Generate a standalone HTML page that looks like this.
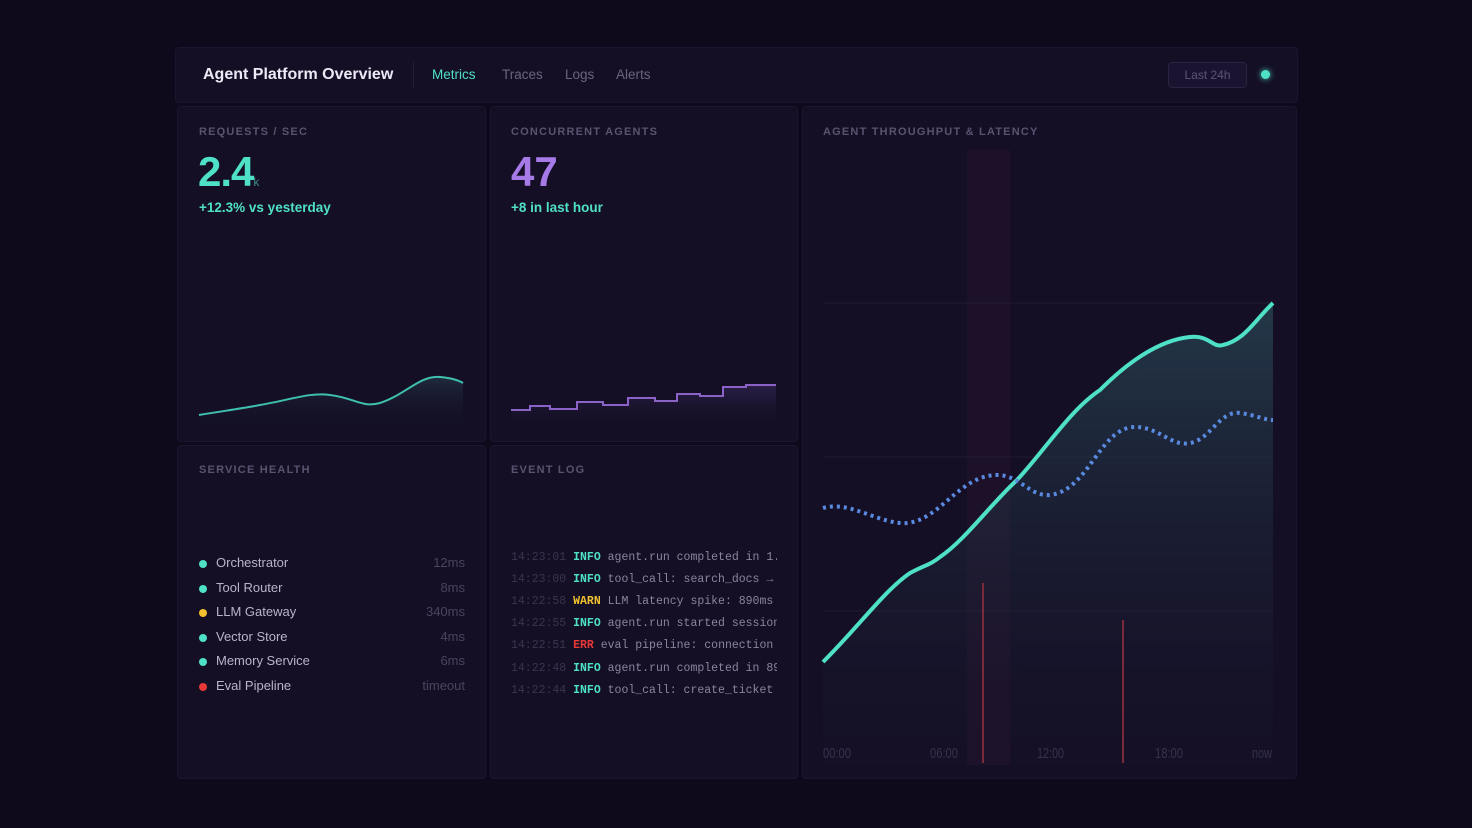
<!DOCTYPE html>
<html><head><meta charset="utf-8"><style>
*{margin:0;padding:0;box-sizing:border-box}
body{width:1472px;height:828px;background:#0e0a1c;font-family:"Liberation Sans",sans-serif;position:relative;overflow:hidden}
.abs{position:absolute}
.panel{position:absolute;background:#140f25;border:1px solid #1b1530;border-radius:4px}
.lbl{position:absolute;font-size:11px;font-weight:bold;letter-spacing:1.2px;color:#5a5370}
.row{position:absolute;left:22px;width:266px;font-size:13px;color:#b9b3cc;height:20px}
.row i{position:absolute;left:0;top:5px;width:8px;height:8px;border-radius:50%}
.row span{position:absolute;left:17px}
.row b{position:absolute;right:0;font-weight:normal;color:#4a4460}
.log{position:absolute;left:20px;font-family:"Liberation Mono",monospace;font-size:11.5px;color:#8a84a0;white-space:nowrap;width:266px;overflow:hidden}
.log s{text-decoration:none;color:#3a3450}
.log .i{color:#4fe0c8;font-weight:bold}
</style></head><body>
<div class="panel" style="left:175px;top:47px;width:1123px;height:56px;background:#150f26"></div>
<div class="abs" style="left:203px;top:66px;font-size:16px;font-weight:bold;color:#eceaf5">Agent Platform Overview</div>
<div class="abs" style="left:413px;top:62px;width:1px;height:26px;background:#231d38"></div>
<div class="abs" style="left:432px;top:67px;font-size:13.5px;color:#4fe0c8">Metrics</div>
<div class="abs" style="left:502px;top:67px;font-size:13.5px;color:#6a6480">Traces</div>
<div class="abs" style="left:565px;top:67px;font-size:13.5px;color:#6a6480">Logs</div>
<div class="abs" style="left:616px;top:67px;font-size:13.5px;color:#6a6480">Alerts</div>
<div class="abs" style="left:1168px;top:62px;width:79px;height:26px;border:1px solid #2a2440;border-radius:4px;background:#1a1430;color:#5c5672;font-size:12px;text-align:center;line-height:24px">Last 24h</div>
<div class="abs" style="left:1261px;top:70px;width:9px;height:9px;border-radius:50%;background:#4fe0c8;box-shadow:0 0 6px #4fe0c8"></div>

<div class="panel" style="left:177px;top:106px;width:309px;height:336px"></div>
<div class="panel" style="left:490px;top:106px;width:308px;height:336px"></div>
<div class="panel" style="left:802px;top:106px;width:495px;height:673px"></div>
<div class="panel" style="left:177px;top:445px;width:309px;height:334px"></div>
<div class="panel" style="left:490px;top:445px;width:308px;height:334px"></div>

<div class="lbl" style="left:199px;top:126px">REQUESTS / SEC</div>
<div class="abs" style="left:198px;top:148px;font-size:42px;font-weight:bold;color:#4fe0c8;letter-spacing:-1px">2.4<span style="font-size:12px;color:#3c8f85;font-weight:normal">k</span></div>
<div class="abs" style="left:199px;top:200px;font-size:13.5px;font-weight:bold;color:#4fe0c8">+12.3% vs yesterday</div>
<div class="lbl" style="left:511px;top:126px">CONCURRENT AGENTS</div>
<div class="abs" style="left:511px;top:148px;font-size:42px;font-weight:bold;color:#a67be8">47</div>
<div class="abs" style="left:511px;top:200px;font-size:13.5px;font-weight:bold;color:#4fe0c8">+8 in last hour</div>
<div class="lbl" style="left:823px;top:126px">AGENT THROUGHPUT &amp; LATENCY</div>
<div class="lbl" style="left:199px;top:464px">SERVICE HEALTH</div>
<div class="lbl" style="left:511px;top:464px">EVENT LOG</div>

<svg class="abs" style="left:0;top:0" width="1472" height="828">
<defs>
<linearGradient id="g1" x1="0" y1="0" x2="0" y2="1"><stop offset="0" stop-color="#2a4a58" stop-opacity=".7"/><stop offset="1" stop-color="#1a1830" stop-opacity=".1"/></linearGradient>
<linearGradient id="g2" x1="0" y1="0" x2="0" y2="1"><stop offset="0" stop-color="#2b4658" stop-opacity=".5"/><stop offset="1" stop-color="#140f25" stop-opacity="0"/></linearGradient>
<linearGradient id="g3" x1="0" y1="0" x2="0" y2="1"><stop offset="0" stop-color="#3a2a60" stop-opacity=".6"/><stop offset="1" stop-color="#140f25" stop-opacity="0"/></linearGradient>
</defs>
<rect x="967" y="150" width="43" height="615" fill="#2a1530" opacity=".4"/>
<g stroke="#221b34" stroke-width="1"><line x1="823" y1="303" x2="1273" y2="303"/><line x1="823" y1="457" x2="1273" y2="457"/><line x1="823" y1="611" x2="1273" y2="611"/></g>
<path d="M823,662 C860,625 885,590 910,573 C925,565 930,565 940,557 C965,540 990,505 1017,480 C1045,450 1070,410 1100,390 C1130,360 1160,340 1190,337 C1210,335 1212,348 1223,345 C1245,340 1255,320 1273,303 L1273,765 L823,765Z" fill="url(#g1)"/>
<path d="M823,662 C860,625 885,590 910,573 C925,565 930,565 940,557 C965,540 990,505 1017,480 C1045,450 1070,410 1100,390 C1130,360 1160,340 1190,337 C1210,335 1212,348 1223,345 C1245,340 1255,320 1273,303" fill="none" stroke="#4fe0c8" stroke-width="4"/>
<path d="M823,508 C850,500 880,525 907,523 C940,520 960,475 997,475 C1020,475 1030,497 1050,495 C1090,490 1100,425 1137,427 C1160,428 1172,447 1190,443 C1210,440 1220,410 1240,413 C1255,415 1265,420 1273,420" fill="none" stroke="#5a8ae0" stroke-width="4" stroke-dasharray="3 4"/>
<line x1="983" y1="583" x2="983" y2="763" stroke="#7a2a38" stroke-width="2"/>
<line x1="1123" y1="620" x2="1123" y2="763" stroke="#7a2a38" stroke-width="2"/>
<g fill="#37314d" font-size="15" font-family="Liberation Sans,sans-serif"><text x="823" y="758" textLength="28" lengthAdjust="spacingAndGlyphs">00:00</text><text x="930" y="758" textLength="28" lengthAdjust="spacingAndGlyphs">06:00</text><text x="1037" y="758" textLength="27" lengthAdjust="spacingAndGlyphs">12:00</text><text x="1155" y="758" textLength="28" lengthAdjust="spacingAndGlyphs">18:00</text><text x="1252" y="758" textLength="20" lengthAdjust="spacingAndGlyphs">now</text></g>
<path d="M199,415 C230,410 245,408 260,405 C290,400 310,392 330,395 C355,398 362,408 380,403 C405,395 420,375 440,377 C452,378 458,380 463,383 L463,430 L199,430Z" fill="url(#g2)"/>
<path d="M199,415 C230,410 245,408 260,405 C290,400 310,392 330,395 C355,398 362,408 380,403 C405,395 420,375 440,377 C452,378 458,380 463,383" fill="none" stroke="#3fbfae" stroke-width="2"/>
<path d="M511,410 H530 V406 H550 V409 H577 V402 H603 V405 H628 V398 H655 V401 H677 V394 H700 V396 H723 V387 H746 V385 H776 V430 H511Z" fill="url(#g3)"/>
<path d="M511,410 H530 V406 H550 V409 H577 V402 H603 V405 H628 V398 H655 V401 H677 V394 H700 V396 H723 V387 H746 V385 H776" fill="none" stroke="#8a62c8" stroke-width="2"/>
</svg>

<div class="abs" style="left:177px;top:0">
<div class="row" style="top:555px"><i style="background:#4fe0c8"></i><span>Orchestrator</span><b>12ms</b></div>
<div class="row" style="top:580px"><i style="background:#4fe0c8"></i><span>Tool Router</span><b>8ms</b></div>
<div class="row" style="top:604px"><i style="background:#f0c030"></i><span>LLM Gateway</span><b>340ms</b></div>
<div class="row" style="top:629px"><i style="background:#4fe0c8"></i><span>Vector Store</span><b>4ms</b></div>
<div class="row" style="top:653px"><i style="background:#4fe0c8"></i><span>Memory Service</span><b>6ms</b></div>
<div class="row" style="top:678px"><i style="background:#e83838"></i><span>Eval Pipeline</span><b>timeout</b></div>
</div>
<div class="abs" style="left:491px;top:0">
<div class="log" style="top:551px"><s>14:23:01</s> <span class="i">INFO</span> agent.run completed in 1.2s</div>
<div class="log" style="top:573px"><s>14:23:00</s> <span class="i">INFO</span> tool_call: search_docs → ok</div>
<div class="log" style="top:595px"><s>14:22:58</s> <span class="i" style="color:#f0c030">WARN</span> LLM latency spike: 890ms</div>
<div class="log" style="top:617px"><s>14:22:55</s> <span class="i">INFO</span> agent.run started session</div>
<div class="log" style="top:639px"><s>14:22:51</s> <span class="i" style="color:#e83838">ERR</span> eval pipeline: connection lost</div>
<div class="log" style="top:662px"><s>14:22:48</s> <span class="i">INFO</span> agent.run completed in 890ms</div>
<div class="log" style="top:684px"><s>14:22:44</s> <span class="i">INFO</span> tool_call: create_ticket</div>
</div>
</body></html>
